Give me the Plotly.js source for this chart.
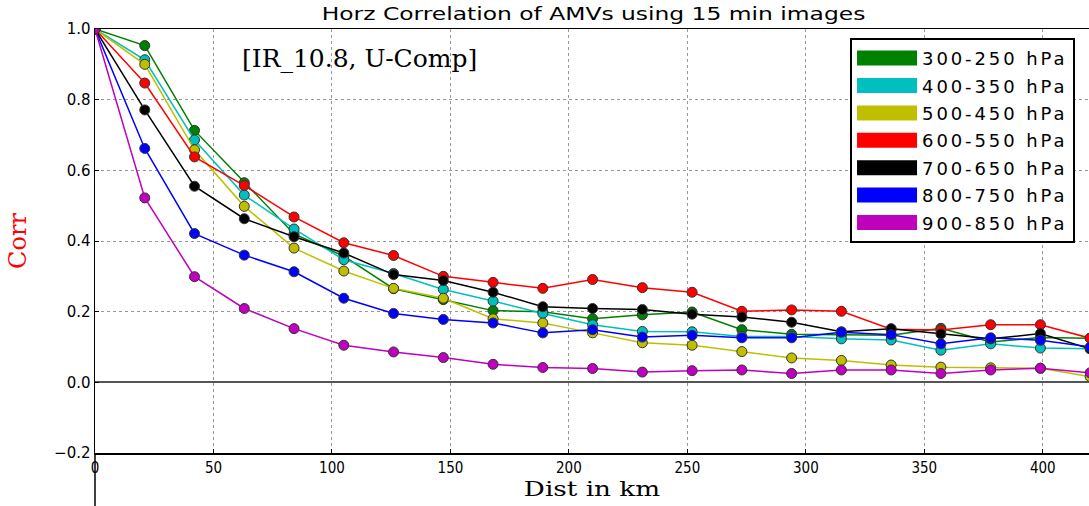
<!DOCTYPE html>
<html>
<head>
<meta charset="utf-8">
<script src="https://cdn.plot.ly/plotly-3.0.1.min.js"></script>
<style>
html,body{margin:0;padding:0;background:#fff;}
#chart{width:1089px;height:506px;}
.gtitle{transform-box:fill-box;transform-origin:center;transform:scaleX(1.3);}
.xtitle{transform-box:fill-box;transform-origin:center;transform:scaleX(1.25);}
.legendtext{letter-spacing:2.9px;}
.legendlines path{stroke-width:15px !important;stroke-linecap:butt !important;}
</style>
</head>
<body>
<div id="chart"></div>
<script>
const dist = [0, 21, 42, 63, 84, 105, 126, 147, 168, 189, 210, 231, 252, 273, 294, 315, 336, 357, 378, 399, 420];
const labels = ["300-250 hPa", "400-350 hPa", "500-450 hPa", "600-550 hPa", "700-650 hPa", "800-750 hPa", "900-850 hPa"];
const colors = ["#008000", "#00bfbf", "#bfbf00", "#ff0000", "#000000", "#0000ff", "#bf00bf"];
const corr300 = [1.0, 0.953, 0.713, 0.565, 0.420, 0.357, 0.265, 0.234, 0.203, 0.200, 0.180, 0.191, 0.199, 0.149, 0.136, 0.135, 0.133, 0.153, 0.114, 0.127, 0.125];
const corr400 = [1.0, 0.913, 0.686, 0.530, 0.434, 0.347, 0.308, 0.263, 0.230, 0.195, 0.163, 0.144, 0.143, 0.130, 0.130, 0.123, 0.120, 0.091, 0.109, 0.097, 0.095];
const corr500 = [1.0, 0.900, 0.658, 0.498, 0.380, 0.315, 0.266, 0.238, 0.180, 0.168, 0.140, 0.112, 0.105, 0.087, 0.069, 0.062, 0.049, 0.043, 0.041, 0.040, 0.016];
const corr600 = [1.0, 0.847, 0.638, 0.557, 0.468, 0.395, 0.359, 0.300, 0.283, 0.266, 0.291, 0.268, 0.255, 0.201, 0.205, 0.201, 0.150, 0.148, 0.163, 0.163, 0.125];
const corr700 = [1.0, 0.771, 0.555, 0.463, 0.412, 0.366, 0.305, 0.288, 0.255, 0.214, 0.209, 0.206, 0.193, 0.185, 0.170, 0.143, 0.152, 0.137, 0.123, 0.138, 0.095];
const corr800 = [1.0, 0.662, 0.421, 0.360, 0.313, 0.238, 0.195, 0.178, 0.168, 0.140, 0.149, 0.128, 0.133, 0.126, 0.126, 0.142, 0.135, 0.109, 0.126, 0.119, 0.100];
const corr900 = [1.0, 0.522, 0.299, 0.209, 0.152, 0.105, 0.086, 0.070, 0.051, 0.042, 0.039, 0.029, 0.033, 0.035, 0.025, 0.035, 0.035, 0.025, 0.035, 0.040, 0.027];
const series = [corr300, corr400, corr500, corr600, corr700, corr800, corr900];
const xTicks = [0, 50, 100, 150, 200, 250, 300, 350, 400];
const yTicks = [-0.2, 0.0, 0.2, 0.4, 0.6, 0.8, 1.0];
const yTickText = ["\u22120.2", "0.0", "0.2", "0.4", "0.6", "0.8", "1.0"];

const traces = [];
series.forEach((s, i) => {
  traces.push({
    x: dist, y: s, type: 'scatter', mode: 'lines+markers', showlegend: false,
    line: {color: colors[i], width: 1.5},
    marker: {color: colors[i], size: 10, line: {color: '#333333', width: 1}},
    cliponaxis: true
  });
});
// legend entries (patch-style)
series.forEach((s, i) => {
  traces.push({
    x: [null], y: [null], type: 'scatter', mode: 'lines', name: labels[i],
    legendgroup: 'g' + i,
    line: {color: colors[i], width: 10}, showlegend: true
  });
});

const layout = {
  width: 1089, height: 506,
  margin: {l: 95, r: 0, t: 29, b: 53, pad: 0},
  paper_bgcolor: '#ffffff', plot_bgcolor: '#ffffff',
  title: {text: 'Horz Correlation of AMVs using 15 min images', x: 0.545, xanchor: 'center', y: 0.972, yanchor: 'middle',
          font: {family: 'DejaVu Sans', size: 18, color: '#000'}},
  xaxis: {
    range: [0, 419.5], tickvals: xTicks, ticktext: xTicks.map(String),
    tickfont: {family: 'DejaVu Sans Condensed, DejaVu Sans', size: 15, color: '#000'},
    showgrid: true, gridcolor: '#999', griddash: 'dot', gridwidth: 1,
    zeroline: false, showline: true, linecolor: '#000', linewidth: 1.5, mirror: true,
    ticks: 'inside', ticklen: 4, tickcolor: '#000',
    title: {text: 'Dist in km', font: {family: 'DejaVu Serif', size: 21, color: '#000'}, standoff: 4}
  },
  yaxis: {
    range: [-0.2, 1.0], tickvals: yTicks, ticktext: yTickText,
    tickfont: {family: 'DejaVu Sans', size: 15, color: '#000'},
    showgrid: true, gridcolor: '#999', griddash: 'dot', gridwidth: 1,
    zeroline: true, zerolinecolor: '#555', zerolinewidth: 2,
    showline: true, linecolor: '#000', linewidth: 1.5, mirror: true,
    ticks: 'inside', ticklen: 4, tickcolor: '#000',
    title: {text: 'Corr', font: {family: 'DejaVu Serif', size: 24, color: '#ff0000'}, standoff: 20}
  },
  legend: {
    x: 0.7596, y: 0.979, xanchor: 'left', yanchor: 'top',
    bgcolor: '#ffffff', bordercolor: '#000', borderwidth: 2,
    font: {family: 'DejaVu Sans', size: 18, color: '#000'},
    itemwidth: 60, traceorder: 'grouped', tracegroupgap: 1
  },
  annotations: [{
    text: '[IR_10.8, U-Comp]', xref: 'paper', yref: 'paper', x: 0.266, y: 0.93,
    xanchor: 'center', yanchor: 'middle', showarrow: false,
    font: {family: 'DejaVu Serif', size: 25, color: '#000'}
  }],
  shapes: [{
    type: 'line', xref: 'paper', yref: 'paper', x0: 0, x1: 0, y0: 0, y1: -0.13,
    line: {color: '#000', width: 1.5}
  }]
};

Plotly.newPlot('chart', traces, layout, {displayModeBar: false, staticPlot: true});
</script>
</body>
</html>
